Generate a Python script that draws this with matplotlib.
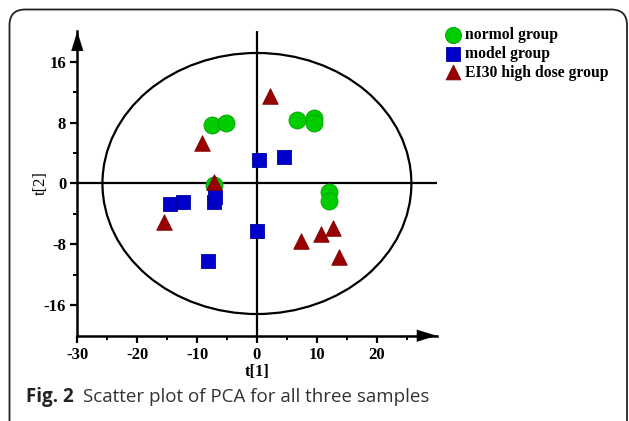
import matplotlib.pyplot as plt
import numpy as np
from matplotlib.patches import Ellipse, FancyBboxPatch
from matplotlib.ticker import FixedLocator

# PCA scores
normol_x = [-7.5, -5.1, 6.7, 9.6, 9.6, -7.2, 12.0, 12.0]
normol_y = [7.7, 7.9, 8.4, 8.6, 8.0, -0.2, -1.1, -2.3]
model_x = [0.4, 4.6, -14.6, -12.3, -7.2, -6.95, 0.0, -8.2]
model_y = [3.1, 3.5, -2.7, -2.4, -2.4, -1.8, -6.3, -10.2]
ei30_x = [2.2, -9.2, -7.2, -15.6, 7.4, 10.7, 12.7, 13.7]
ei30_y = [11.5, 5.3, 0.2, -5.0, -7.5, -6.6, -5.9, -9.7]
labels = ['normol group', 'model group', 'EI30 high dose group']
xticks = [-30, -20, -10, 0, 10, 20]
yticks = [-16, -8, 0, 8, 16]
xminor = [-25, -15, -5, 5, 15, 25]
yminor = [-12, -4, 4, 12]
ellipse_w, ellipse_h = 51.6, 34.3

serif = 'Liberation Serif'
plt.rcParams['axes.unicode_minus'] = False

fig = plt.figure(figsize=(6.29, 4.21), dpi=100)
ax = fig.add_axes([0.1229, 0.2026, 0.5711, 0.7231])

ax.set_xlim(-30, 30)
ax.set_ylim(-20, 20)

# crosshair and ellipse
ax.axvline(0, color='k', lw=1.6, zorder=1)
ax.axhline(0, color='k', lw=1.6, zorder=1)
ax.add_patch(Ellipse((0, 0), ellipse_w, ellipse_h, fill=False, ec='k', lw=1.6, zorder=1))

ax.scatter(normol_x, normol_y, s=150, marker='o', c='#00cc00', edgecolors='#00a000',
           linewidths=0.6, zorder=3, label=labels[0])
ax.scatter(model_x, model_y, s=105, marker='s', c='#0000cc', edgecolors='#0000a0',
           linewidths=0.6, zorder=4, label=labels[1])
ax.scatter(ei30_x, ei30_y, s=125, marker='^', c='#990000', edgecolors='#800000',
           linewidths=0.6, zorder=5, label=labels[2])

for s in ['top', 'right']:
    ax.spines[s].set_visible(False)
for s in ['left', 'bottom']:
    ax.spines[s].set_linewidth(1.8)

# arrow heads on the axes
head = dict(arrowstyle='-|>,head_length=14,head_width=4.3', color='k', lw=0.1,
            mutation_scale=1, shrinkA=0, shrinkB=0)
ax.annotate('', xy=(1.0, 0), xytext=(0.9, 0), xycoords='axes fraction', arrowprops=head)
ax.annotate('', xy=(0, 1.0), xytext=(0, 0.9), xycoords='axes fraction', arrowprops=head)

ax.set_xticks(xticks)
ax.set_yticks(yticks)
ax.xaxis.set_minor_locator(FixedLocator(xminor))
ax.yaxis.set_minor_locator(FixedLocator(yminor))
ax.tick_params(which='major', length=5, width=1.6, direction='out', pad=3)
ax.tick_params(which='minor', length=3, width=1.4, direction='out')
for t in ax.get_xticklabels() + ax.get_yticklabels():
    t.set_fontfamily(serif)
    t.set_fontweight('bold')
    t.set_fontsize(12)

ax.set_xlabel('t[1]', fontfamily=serif, fontweight='bold', fontsize=12, labelpad=1)
ax.set_ylabel('t[2]', fontfamily=serif, fontsize=12)
ax.yaxis.set_label_coords(-0.08, 0.5)

leg = fig.legend(loc='upper left', bbox_to_anchor=(0.709, 0.936), frameon=False,
                 handletextpad=0.3, handlelength=0.9, labelspacing=0.18,
                 borderaxespad=0, borderpad=0, markerscale=0.95,
                 prop=dict(family=serif, weight='bold', size=11.3))

# outer frame and caption
fig.patches.append(FancyBboxPatch((9.5 / 629, -0.2), 617.5 / 629, 1.2 - 9.5 / 421,
                                  boxstyle='round,pad=0,rounding_size=0.025',
                                  transform=fig.transFigure, fill=False,
                                  ec='#222222', lw=1.3, mutation_aspect=629 / 421))
fig.text(26 / 629, 1 - 397 / 421, 'Fig. 2', fontfamily='Open Sans', fontweight='bold',
         fontsize=13.5, color='#222222', va='center')
fig.text(83 / 629, 1 - 397 / 421, 'Scatter plot of PCA for all three samples',
         fontfamily='Open Sans', fontsize=13.5, color='#333333', va='center')

fig.savefig('out.png', dpi=100)
